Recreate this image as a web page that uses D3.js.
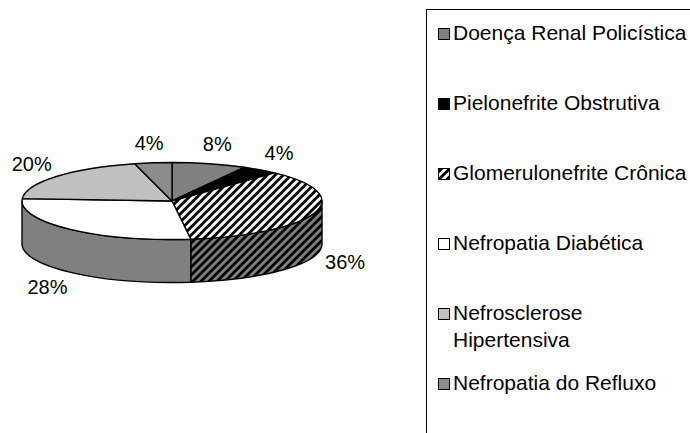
<!DOCTYPE html>
<html>
<head>
<meta charset="utf-8">
<script src="https://cdn.jsdelivr.net/npm/d3@7"></script>
<style>
  html, body { margin: 0; padding: 0; background: #fff; }
  svg { display: block; font-family: "Liberation Sans", Arial, sans-serif; }
</style>
</head>
<body>
<script>
// ---- data ----
const categories = ["Doença Renal Policística", "Pielonefrite Obstrutiva", "Glomerulonefrite Crônica",
                    "Nefropatia Diabética", "Nefrosclerose Hipertensiva", "Nefropatia do Refluxo"];
const values = [8, 4, 36, 28, 20, 4];
const valueLabels = ["8%", "4%", "36%", "28%", "20%", "4%"];

// ---- styles ----
const fills = ["#808080", "#000000", "url(#hatch)", "#ffffff", "#c0c0c0", "#8c8c8c"];
const sideFills = ["#404040", "#000000", "url(#hatchSide)", "#808080", "#606060", "#464646"];

const W = 690, H = 433;
const svg = d3.select("body").append("svg").attr("width", W).attr("height", H);

const defs = svg.append("defs");
function hatch(id, bg) {
  const p = defs.append("pattern").attr("id", id).attr("patternUnits", "userSpaceOnUse")
    .attr("width", 5.66).attr("height", 5.66).attr("patternTransform", "rotate(45)");
  p.append("rect").attr("width", 5.66).attr("height", 5.66).attr("fill", bg);
  p.append("rect").attr("width", 2.83).attr("height", 5.66).attr("fill", "#000");
}
hatch("hatch", "#fff");
hatch("hatchSide", "#808080");

// ---- pie geometry ----
const cx = 172, cy = 201, rx = 150, ry = 38.5, depth = 43;
const arcs = d3.pie().sort(null).value(d => d)(values);
const px = a => cx + rx * Math.sin(a);
const py = a => cy - ry * Math.cos(a);

const g = svg.append("g");

// side walls (front half only)
arcs.forEach((d, i) => {
  const s0 = Math.max(d.startAngle, Math.PI / 2), s1 = Math.min(d.endAngle, 3 * Math.PI / 2);
  if (s0 >= s1) return;
  const p = `M${px(s0)},${py(s0)}A${rx},${ry} 0 0 1 ${px(s1)},${py(s1)}` +
            `L${px(s1)},${py(s1) + depth}A${rx},${ry} 0 0 0 ${px(s0)},${py(s0) + depth}Z`;
  g.append("path").attr("d", p).attr("fill", sideFills[i])
    .attr("stroke", "#000").attr("stroke-width", 1.4).attr("stroke-linejoin", "round");
});

// top faces
arcs.forEach((d, i) => {
  const a0 = d.startAngle, a1 = d.endAngle;
  const large = (a1 - a0) > Math.PI ? 1 : 0;
  const p = `M${cx},${cy}L${px(a0)},${py(a0)}A${rx},${ry} 0 ${large} 1 ${px(a1)},${py(a1)}Z`;
  g.append("path").attr("d", p).attr("fill", fills[i])
    .attr("stroke", "#000").attr("stroke-width", 1.4).attr("stroke-linejoin", "round");
});

// data labels
const lrx = rx + 32, lry = ry + 20.5;
arcs.forEach((d, i) => {
  const m = (d.startAngle + d.endAngle) / 2;
  const x = cx + lrx * Math.sin(m);
  let y = cy - lry * Math.cos(m);
  if (Math.cos(m) < 0) y += depth;
  svg.append("text").attr("x", x).attr("y", y + 7.2)
    .attr("text-anchor", "middle").attr("font-size", 20).attr("fill", "#000")
    .text(valueLabels[i]);
});

// ---- legend ----
const legend = svg.append("g");
legend.append("rect").attr("x", 426.5).attr("y", 9.5).attr("width", 400).attr("height", 500)
  .attr("fill", "none").attr("stroke", "#000").attr("stroke-width", 1);

const step = 70, top0 = 28.5, maxW = 237;
categories.forEach((c, i) => {
  const y0 = top0 + i * step;
  legend.append("rect").attr("x", 438.5).attr("y", y0).attr("width", 11).attr("height", 11)
    .attr("fill", fills[i]).attr("stroke", "#000").attr("stroke-width", 1);
  const t = legend.append("text").attr("x", 453).attr("y", y0 + 11).attr("font-size", 21).attr("fill", "#000");
  // wrap words
  const words = c.split(" ");
  let line = [], lineNo = 0;
  let ts = t.append("tspan").attr("x", 453).attr("dy", 0);
  words.forEach(w => {
    line.push(w);
    ts.text(line.join(" "));
    if (ts.node().getComputedTextLength() > maxW && line.length > 1) {
      line.pop();
      ts.text(line.join(" "));
      line = [w];
      lineNo++;
      ts = t.append("tspan").attr("x", 453).attr("dy", 27).text(w);
    }
  });
});
</script>
</body>
</html>
